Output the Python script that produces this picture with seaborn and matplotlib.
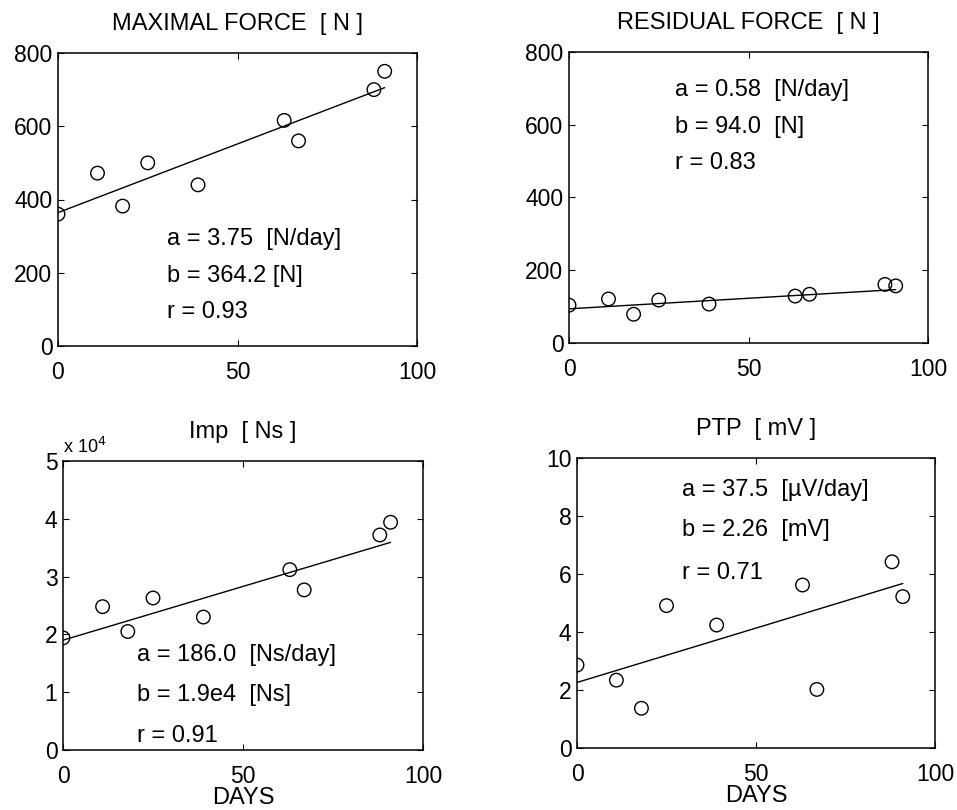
import numpy as np
import pandas as pd
import matplotlib
matplotlib.use("Agg")
import matplotlib.pyplot as plt
from matplotlib.ticker import FuncFormatter
import seaborn as sns

# Measurement days
days = [0, 11, 18, 25, 39, 63, 67, 88, 91]

# Measured quantities per day
max_force = [360, 472, 382, 500, 440, 616, 560, 700, 750]          # N
res_force = [104, 121, 79, 118, 107, 129, 134, 161, 157]            # N
impulse = [19400, 24800, 20500, 26300, 23000, 31200, 27700, 37200, 39400]  # Ns
ptp = [2.86, 2.34, 1.37, 4.91, 4.24, 5.62, 2.02, 6.42, 5.22]        # mV

# Regression parameters y = b + a * day
slope = [3.75, 0.58, 186.0, 0.0375]
intercept = [364.2, 94.0, 1.9e4, 2.26]

titles = ["MAXIMAL FORCE  [ N ]", "RESIDUAL FORCE  [ N ]", "Imp  [ Ns ]", "PTP  [ mV ]"]
stat_lines = [
    ["a = 3.75  [N/day]", "b = 364.2 [N]", "r = 0.93"],
    ["a = 0.58  [N/day]", "b = 94.0  [N]", "r = 0.83"],
    ["a = 186.0  [Ns/day]", "b = 1.9e4  [Ns]", "r = 0.91"],
    ["a = 37.5  [\u00b5V/day]", "b = 2.26  [mV]", "r = 0.71"],
]
y_ticks = [
    [0, 200, 400, 600, 800],
    [0, 200, 400, 600, 800],
    [0, 10000, 20000, 30000, 40000, 50000],
    [0, 2, 4, 6, 8, 10],
]
x_ticks = [0, 50, 100]

sns.set_style("ticks")
plt.rcParams["font.family"] = ["Liberation Sans", "DejaVu Sans"]
plt.rcParams["text.color"] = "black"

W, H = 957, 810
fig = plt.figure(figsize=(W / 100, H / 100), dpi=100)

# axes boxes in pixels: left, right, top, bottom
boxes = [
    (58, 417, 53, 346),
    (569, 928, 52, 343),
    (63, 423, 461, 750),
    (577, 935, 458, 748),
]
# text block: left (axes frac) and centre heights (axes frac)
stat_pos = [
    (0.305, [0.366, 0.240, 0.115]),
    (0.296, [0.869, 0.743, 0.618]),
    (0.205, [0.328, 0.192, 0.050]),
    (0.292, [0.890, 0.752, 0.602]),
]
series = [max_force, res_force, impulse, ptp]

for i, (l, r, t, b) in enumerate(boxes):
    ax = fig.add_axes([l / W, 1 - b / H, (r - l) / W, (b - t) / H])
    df = pd.DataFrame({"day": days, "value": series[i]})
    sns.scatterplot(data=df, x="day", y="value", ax=ax, marker="o", s=95,
                    facecolor="none", edgecolor="black", linewidth=1.0, zorder=3)
    fit = pd.DataFrame({"day": [min(days), max(days)]})
    fit["value"] = intercept[i] + slope[i] * fit["day"]
    sns.lineplot(data=fit, x="day", y="value", ax=ax, color="black", linewidth=1.0)

    ax.set_xlim(0, 100)
    ax.set_ylim(y_ticks[i][0], y_ticks[i][-1])
    ax.set_xticks(x_ticks)
    ax.set_yticks(y_ticks[i])
    ax.set_xlabel("")
    ax.set_ylabel("")
    ax.tick_params(direction="in", top=True, right=True, length=4, width=0.8,
                   labelsize=16.5, colors="black")
    ax.tick_params(axis="x", pad=11)
    ax.tick_params(axis="y", pad=4)
    for sp in ax.spines.values():
        sp.set_visible(True)
        sp.set_linewidth(1.1)
        sp.set_color("black")

    if i == 2:
        ax.yaxis.set_major_formatter(FuncFormatter(lambda v, p: f"{v / 1e4:g}"))
        ax.text(0.0, 1.05, r"x 10$^4$", transform=ax.transAxes, fontsize=13,
                ha="left", va="center")

    h = b - t
    ax.text(0.5, 1 + 29 / h, titles[i], transform=ax.transAxes, fontsize=17,
            ha="center", va="center")

    x0, ys = stat_pos[i]
    for line, yy in zip(stat_lines[i], ys):
        ax.text(x0, yy, line, transform=ax.transAxes, fontsize=17,
                ha="left", va="center")

    if i >= 2:
        ax.text(0.5, -48 / h, "DAYS", transform=ax.transAxes, fontsize=17,
                ha="center", va="center")

fig.savefig("out.png", dpi=100, facecolor="white")
